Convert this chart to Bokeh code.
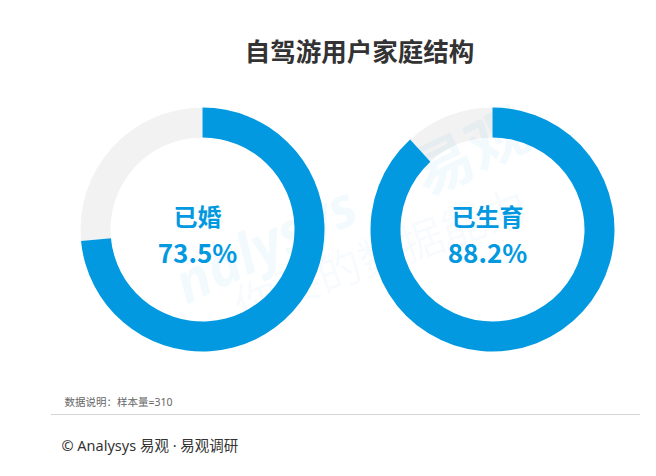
import math
from bokeh.plotting import figure
from bokeh.models import ColumnDataSource
from bokeh.core.properties import value
from bokeh.embed import file_html
from bokeh.resources import INLINE

title_text = "自驾游用户家庭结构"
categories = ["已婚", "已生育"]
percents = [73.5, 88.2]
note_text = "数据说明：样本量=310"
copyright_text = "© Analysys 易观 · 易观调研"
watermark_texts = ["nalysys", "易观", "你要的数据能力"]

W, H = 640, 460
BLUE = "#0299e0"
GREY = "#f2f2f2"
FONT = "Noto Sans CJK SC"
FONT_MIX = "Noto Sans, Noto Sans CJK SC"

p = figure(width=W, height=H, x_range=(0, W), y_range=(0, H),
           output_backend="svg", toolbar_location=None, min_border=0)
p.axis.visible = False
p.grid.visible = False
p.outline_line_color = None
p.background_fill_color = "white"


def Y(top):
    return H - top


cx = [202, 492]
cy = [Y(229)] * 2
start = [math.pi / 2] * 2
ends = [math.pi / 2 - v / 100 * 2 * math.pi for v in percents]
grey_end = [math.pi / 2 - 2 * math.pi] * 2

src = ColumnDataSource(dict(x=cx, y=cy, start=start, end=ends, gend=grey_end,
                            cat=categories, pct=[f"{v}%" for v in percents]))

p.annular_wedge(x="x", y="y", inner_radius=92, outer_radius=122,
                start_angle="end", end_angle="gend", direction="clock",
                fill_color=GREY, line_color=None, source=src,
                inner_radius_units="screen", outer_radius_units="screen")
p.annular_wedge(x="x", y="y", inner_radius=92, outer_radius=122,
                start_angle="start", end_angle="end", direction="clock",
                fill_color=BLUE, line_color=None, source=src,
                inner_radius_units="screen", outer_radius_units="screen")

# faint watermark
p.text(x=[264], y=[Y(242)], text=[watermark_texts[0]], angle=math.radians(26),
       text_font=value(FONT_MIX), text_font_style="bold italic",
       text_font_size="56px", text_color=BLUE, text_alpha=0.05,
       text_align="center", text_baseline="middle")
p.text(x=[468], y=[Y(147)], text=[watermark_texts[1]], angle=math.radians(26),
       text_font=value(FONT), text_font_style="bold",
       text_font_size="60px", text_color=BLUE, text_alpha=0.05,
       text_align="center", text_baseline="middle")
p.text(x=[379], y=[Y(252)], text=[watermark_texts[2]], angle=math.radians(20),
       text_font=value(FONT), text_font_size="44px", text_color=BLUE,
       text_alpha=0.045, text_align="center", text_baseline="middle")

p.text(x="x", y="y", text="cat", source=src, x_offset=-5, y_offset=-14,
       text_font=value(FONT), text_font_style="bold", text_font_size="24px",
       text_color=BLUE, text_align="center", text_baseline="middle")
p.text(x="x", y="y", text="pct", source=src, x_offset=-5, y_offset=22,
       text_font=value(FONT), text_font_style="bold", text_font_size="26px",
       text_color=BLUE, text_align="center", text_baseline="middle")

p.text(x=[359], y=[Y(49)], text=[title_text], text_font=value(FONT),
       text_font_style="bold", text_font_size="25.5px", text_color="#333333",
       text_align="center", text_baseline="middle")

p.text(x=[64], y=[Y(401)], text=[note_text], text_font=value(FONT_MIX),
       text_font_size="10.5px", text_color="#666666",
       text_align="left", text_baseline="middle")

p.segment(x0=[51], y0=[Y(414)], x1=[W], y1=[Y(414)], line_color="#aaaaaa",
          line_width=1, line_dash="1 1")

p.text(x=[61], y=[Y(444)], text=[copyright_text], text_font=value(FONT_MIX),
       text_font_size="14.5px", text_color="#333333",
       text_align="left", text_baseline="middle")

open("out.html", "w").write(file_html(p, INLINE))
